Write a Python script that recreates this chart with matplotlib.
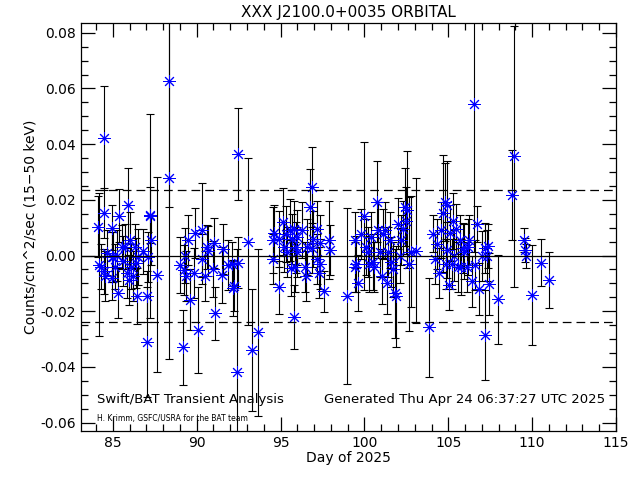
import numpy as np
import matplotlib
matplotlib.use('Agg')
import matplotlib.pyplot as plt
from matplotlib.ticker import MultipleLocator

# Swift/BAT orbital light curve
day = [
    84.13, 84.17, 84.27, 84.47, 84.47, 84.50, 84.55, 84.63, 84.93, 84.95,
    84.97, 85.03, 85.10, 85.23, 85.33, 85.39, 85.53, 85.58, 85.72, 85.82,
    85.88, 85.98, 86.02, 86.10, 86.22, 86.32, 86.38, 86.46, 86.52, 86.78,
    87.02, 87.02, 87.11, 87.21, 87.24, 87.27, 87.61, 88.37, 88.37,
    89.00, 89.20, 89.25, 89.30, 89.35, 89.50, 89.60, 89.82, 89.90, 90.10,
    90.30, 90.33, 90.50, 90.60, 90.65, 91.00, 91.09, 91.05, 91.50, 91.55,
    91.88, 92.08, 92.18, 92.22, 92.48, 92.38, 92.45, 93.07, 93.30, 93.67,
    94.55, 94.55, 94.58, 94.90, 94.90, 95.15, 95.20, 95.35, 95.40, 95.55,
    95.65, 95.68, 95.80, 95.82, 95.85, 95.90, 95.95, 96.00, 96.26, 96.46,
    96.50, 96.55, 96.75, 96.85, 96.90, 96.95, 97.15, 97.18, 97.30, 97.33,
    97.35, 97.60, 97.88, 97.92,
    98.98, 99.44, 99.46, 99.50, 99.64, 99.80, 99.98, 100.10, 100.20, 100.30,
    100.40, 100.53, 100.60, 100.73, 100.80, 100.90, 101.03, 101.10, 101.20, 101.33,
    101.40, 101.50, 101.60, 101.70, 101.83, 101.90, 102.00, 102.13, 102.20, 102.30,
    102.42, 102.50, 102.55, 102.65, 102.75, 103.10,
    103.87, 104.11, 104.20, 104.30, 104.47, 104.55, 104.71, 104.81, 104.85, 104.90,
    104.95, 105.06, 105.10, 105.20, 105.30, 105.35, 105.48, 105.55, 105.70, 105.75,
    105.85, 105.95, 106.10, 106.15, 106.25, 106.40, 106.54, 106.60, 106.73, 106.85,
    107.00, 107.19, 107.21, 107.28, 107.35, 107.44,
    107.98, 108.78, 108.92, 109.52, 109.58, 109.62, 109.97, 110.51, 111.03,
]
rate = [
    0.0104, -0.0033, -0.0040, 0.0153, 0.0422, -0.0057, -0.0075, 0.0010, 0.0100, -0.0004,
    -0.0080, -0.0004, -0.0040, 0.0000, -0.0133, 0.0143, 0.0030, -0.0020, 0.0032, -0.0062,
    0.0180, -0.0087, 0.0056, -0.0040, -0.0075, 0.0032, -0.0027, -0.0145, -0.0005, 0.0015,
    -0.0147, -0.0311, -0.0005, 0.0146, 0.0142, 0.0056, -0.0069, 0.0625, 0.0278,
    -0.0033, -0.0330, -0.0051, 0.0000, -0.0075, 0.0056, -0.0159, -0.0062, 0.0080, -0.0267,
    0.0092, -0.0012, -0.0075, 0.0030, 0.0015, -0.0048, -0.0207, 0.0045, -0.0069, 0.0024,
    -0.0033, -0.0030, -0.0116, -0.0110, 0.0365, -0.0417, -0.0025, 0.0050, -0.0339, -0.0275,
    0.0056, -0.0012, 0.0080, -0.0114, 0.0060, 0.0122, 0.0030, 0.0078, 0.0014, 0.0092,
    -0.0045, 0.0060, -0.0219, 0.0097, -0.0041, 0.0029, 0.0065, 0.0014, 0.0092, -0.0040,
    -0.0075, 0.0030, 0.0176, 0.0246, 0.0026, 0.0060, 0.0097, -0.0012, -0.0061, 0.0045,
    -0.0030, -0.0129, 0.0056, 0.0020,
    -0.0145, 0.0056, -0.0040, -0.0030, -0.0099, 0.0078, 0.0143, 0.0030, 0.0014, -0.0030,
    0.0065, -0.0023, -0.0040, 0.0194, 0.0092, 0.0014, -0.0075, 0.0078, 0.0092, -0.0099,
    0.0014, 0.0056, -0.0022, -0.0050, -0.0135, -0.0147, 0.0115, 0.0000, 0.0056, 0.0097,
    0.0176, 0.0125, 0.0165, -0.0030, 0.0014, 0.0017,
    -0.0257, 0.0078, -0.0011, 0.0040, -0.0062, 0.0092, 0.0152, 0.0194, -0.0030, 0.0180,
    0.0020, -0.0105, 0.0080, -0.0030, 0.0125, 0.0000, 0.0095, -0.0040, 0.0056, -0.0040,
    0.0026, 0.0014, -0.0040, 0.0030, 0.0056, -0.0093, 0.0544, -0.0033, 0.0114, -0.0120,
    -0.0003, -0.0285, 0.0026, 0.0000, 0.0035, -0.0102,
    -0.0157, 0.0218, 0.0356, 0.0056, 0.0020, 0.0000, -0.0141, -0.0025, -0.0087,
]
err = [
    0.011, 0.0257, 0.008, 0.009, 0.0188, 0.008, 0.009, 0.008, 0.008, 0.009,
    0.008, 0.009, 0.008, 0.009, 0.009, 0.0096, 0.008, 0.009, 0.008, 0.009,
    0.0135, 0.009, 0.010, 0.008, 0.009, 0.008, 0.009, 0.010, 0.010, 0.008,
    0.009, 0.0198, 0.009, 0.010, 0.0368, 0.009, 0.035, 0.045, 0.065,
    0.010, 0.0135, 0.009, 0.010, 0.009, 0.009, 0.011, 0.009, 0.009, 0.0155,
    0.017, 0.009, 0.009, 0.008, 0.009, 0.010, 0.0095, 0.009, 0.010, 0.009,
    0.009, 0.008, 0.010, 0.009, 0.0165, 0.044, 0.009, 0.030, 0.022, 0.030,
    0.012, 0.009, 0.010, 0.0095, 0.010, 0.012, 0.009, 0.010, 0.009, 0.011,
    0.010, 0.009, 0.0115, 0.010, 0.009, 0.009, 0.010, 0.009, 0.010, 0.009,
    0.009, 0.010, 0.0135, 0.0145, 0.009, 0.010, 0.010, 0.009, 0.009, 0.010,
    0.009, 0.0075, 0.014, 0.009,
    0.0316, 0.010, 0.009, 0.010, 0.010, 0.009, 0.0266, 0.010, 0.009, 0.010,
    0.009, 0.010, 0.009, 0.0145, 0.010, 0.009, 0.010, 0.009, 0.010, 0.011,
    0.009, 0.010, 0.009, 0.010, 0.016, 0.018, 0.009, 0.010, 0.009, 0.010,
    0.014, 0.012, 0.021, 0.024, 0.020, 0.026,
    0.0178, 0.0067, 0.009, 0.009, 0.009, 0.010, 0.021, 0.014, 0.009, 0.016,
    0.010, 0.009, 0.010, 0.009, 0.010, 0.009, 0.009, 0.009, 0.009, 0.010,
    0.009, 0.010, 0.009, 0.010, 0.009, 0.009, 0.053, 0.009, 0.0065, 0.0095,
    0.009, 0.0163, 0.009, 0.009, 0.008, 0.011,
    0.0159, 0.0162, 0.047, 0.0043, 0.0043, 0.0043, 0.018, 0.0083, 0.010,
]
limit = 0.0237  # dashed threshold lines

fig = plt.figure(figsize=(6.4, 4.8), dpi=100)
ax = fig.add_axes([81/640, 49/480, 535/640, 408/480])

ax.errorbar(day, rate, yerr=err, fmt='none', ecolor='k', elinewidth=0.8, capsize=3, capthick=0.8)
ax.plot(day, rate, ls='none', marker=(8, 2, 0), ms=9, mec='blue', mew=0.7, color='blue')
ax.axhline(0, color='k', lw=0.9)
ax.axhline(limit, color='k', lw=0.9, ls=(0, (7, 4)))
ax.axhline(-limit, color='k', lw=0.9, ls=(0, (7, 4)))

ax.set_xlim(83.1, 115)
ax.set_ylim(-0.063, 0.0835)
ax.xaxis.set_major_locator(MultipleLocator(5))
ax.xaxis.set_minor_locator(MultipleLocator(1))
ax.yaxis.set_major_locator(MultipleLocator(0.02))
ax.yaxis.set_minor_locator(MultipleLocator(0.005))
ax.yaxis.set_major_formatter(plt.FuncFormatter(lambda v, p: '%.2f' % v if abs(v) > 1e-9 else '0.00'))
ax.tick_params(which='both', direction='in', top=True, right=True, labelsize=10, width=0.9)
ax.tick_params(which='major', length=10)
ax.tick_params(which='minor', length=5)
for s in ax.spines.values():
    s.set_linewidth(0.9)

ax.set_title('XXX J2100.0+0035 ORBITAL', fontsize=11, pad=4)
ax.set_xlabel('Day of 2025', fontsize=10, labelpad=1)
ax.set_ylabel('Counts/cm^2/sec (15\u221250 keV)', fontsize=10, labelpad=2)

fig.text(97/640, 1 - 400/480, 'Swift/BAT Transient Analysis', fontsize=9.5, va='center')
fig.text(97/640, 1 - 419/480, 'H. Krimm, GSFC/USRA for the BAT team', fontsize=5.5, va='center')
fig.text(605/640, 1 - 400/480, 'Generated Thu Apr 24 06:37:27 UTC 2025', fontsize=9.5, va='center', ha='right')

fig.savefig('out.png', dpi=100)
